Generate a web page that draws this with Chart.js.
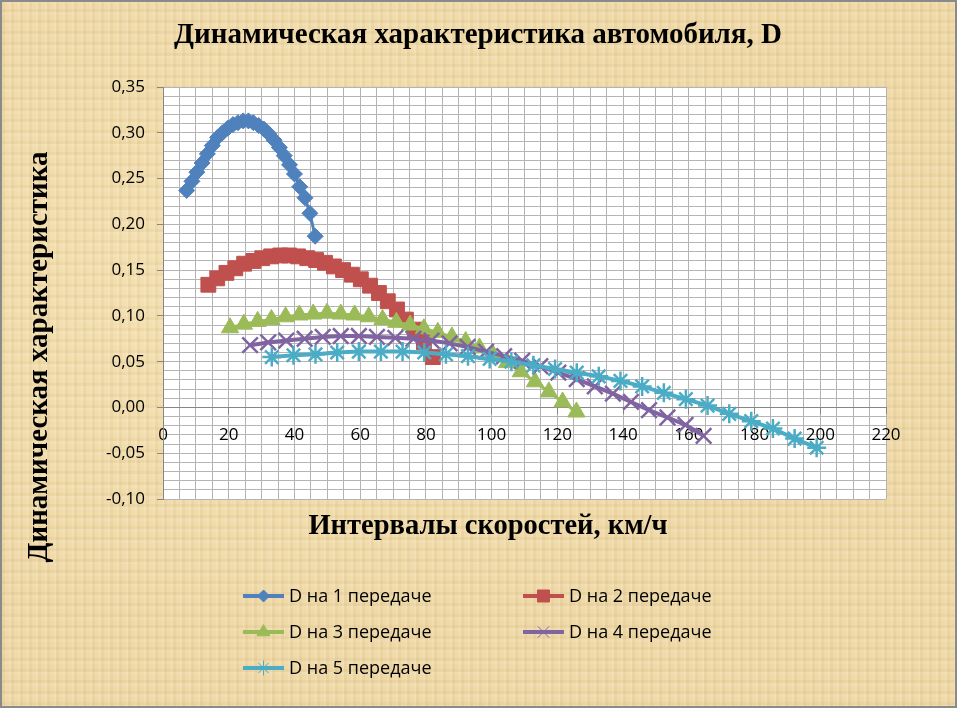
<!DOCTYPE html>
<html lang="ru">
<head>
<meta charset="utf-8">
<title>Динамическая характеристика автомобиля, D</title>
<script src="https://cdn.jsdelivr.net/npm/chart.js@4.4.1/dist/chart.umd.min.js"></script>
<style>
    html, body { margin: 0; padding: 0; }
    #wrap {
        position: relative;
        width: 957px;
        height: 708px;
        background-color: #efd9a7;
        background-image:
            repeating-linear-gradient(90deg, rgba(255,255,255,0.10) 0 2px, rgba(150,110,40,0.06) 2px 5px, rgba(255,255,255,0) 5px 9px),
            repeating-linear-gradient(0deg, rgba(255,255,255,0.08) 0 3px, rgba(150,110,40,0.06) 3px 6px, rgba(255,255,255,0) 6px 11px),
            radial-gradient(ellipse at 30% 40%, rgba(255,240,200,0.35), rgba(255,240,200,0) 60%);
        box-shadow: inset 0 0 0 2px #8a8a8a;
    }
    canvas { position: absolute; left: 0; top: 0; }
</style>
</head>
<body>
<div id="wrap"><canvas id="chartD" width="957" height="708"></canvas></div>
<script>
// скорости, км/ч
const speed1 = [7.2, 8.8, 10.3, 11.9, 13.5, 15.0, 16.6, 18.1, 19.7, 21.3, 22.8, 24.4, 26.0, 27.5, 29.1, 30.7, 32.2, 33.8, 35.4, 36.9, 38.5, 40.0, 41.6, 43.2, 44.7, 46.3];
const speed2 = [13.8, 16.5, 19.3, 22.0, 24.7, 27.5, 30.2, 32.9, 35.7, 38.4, 41.1, 43.9, 46.6, 49.3, 52.0, 54.8, 57.5, 60.2, 63.0, 65.7, 68.4, 71.2, 73.9, 76.6, 79.4, 82.1];
const speed3 = [20.4, 24.6, 28.8, 33.0, 37.3, 41.5, 45.7, 49.9, 54.1, 58.3, 62.6, 66.8, 71.0, 75.2, 79.4, 83.6, 87.9, 92.1, 96.3, 100.5, 104.7, 108.9, 113.2, 117.4, 121.6, 125.8];
const speed4 = [26.5, 32.0, 37.5, 43.1, 48.6, 54.1, 59.6, 65.1, 70.7, 76.2, 81.7, 87.2, 92.7, 98.3, 103.8, 109.3, 114.8, 120.3, 125.9, 131.4, 136.9, 142.4, 147.9, 153.5, 159.0, 164.5];
const speed5 = [33.1, 39.7, 46.4, 53.0, 59.6, 66.3, 72.9, 79.5, 86.1, 92.8, 99.4, 106.0, 112.7, 119.3, 125.9, 132.6, 139.2, 145.8, 152.4, 159.1, 165.7, 172.3, 179.0, 185.6, 192.2, 198.9];

// динамический фактор D
const d1 = [0.237, 0.247, 0.257, 0.267, 0.277, 0.286, 0.295, 0.300, 0.305, 0.309, 0.311, 0.313, 0.313, 0.311, 0.308, 0.304, 0.299, 0.292, 0.284, 0.275, 0.265, 0.255, 0.241, 0.229, 0.212, 0.187];
const d2 = [0.134, 0.141, 0.147, 0.152, 0.157, 0.160, 0.163, 0.165, 0.166, 0.166, 0.165, 0.163, 0.161, 0.158, 0.154, 0.150, 0.145, 0.140, 0.133, 0.125, 0.116, 0.107, 0.096, 0.085, 0.071, 0.055];
const d3 = [0.087, 0.091, 0.094, 0.096, 0.099, 0.101, 0.102, 0.103, 0.102, 0.101, 0.099, 0.096, 0.093, 0.090, 0.086, 0.082, 0.077, 0.072, 0.065, 0.057, 0.049, 0.039, 0.028, 0.017, 0.006, -0.005];
const d4 = [0.068, 0.071, 0.073, 0.075, 0.077, 0.078, 0.078, 0.077, 0.076, 0.075, 0.073, 0.070, 0.066, 0.061, 0.056, 0.051, 0.045, 0.038, 0.031, 0.023, 0.015, 0.006, -0.003, -0.011, -0.019, -0.031];
const d5 = [0.055, 0.057, 0.058, 0.060, 0.061, 0.061, 0.061, 0.060, 0.058, 0.056, 0.053, 0.050, 0.046, 0.042, 0.038, 0.034, 0.029, 0.023, 0.016, 0.009, 0.002, -0.007, -0.015, -0.023, -0.034, -0.044];

const seriesNames = ['D на 1 передаче', 'D на 2 передаче', 'D на 3 передаче', 'D на 4 передаче', 'D на 5 передаче'];
const chartTitle = 'Динамическая характеристика автомобиля, D';
const xTitle = 'Интервалы скоростей, км/ч';
const yTitle = 'Динамическая характеристика';

const xMin = 0, xMax = 220, xMinor = 5, xMajor = 20;
const yMin = -0.10, yMax = 0.35, yMinor = 0.01, yMajor = 0.05;

const SERIF = '"Liberation Serif", "Times New Roman", serif';
const SANS = '"Open Sans", "Liberation Sans", Arial, sans-serif';

const styles = [
    { color: '#4f81bd', point: 'rectRot',  radius: 8,    pw: 1,   lw: 3, lr: 6,   lpw: 1 },
    { color: '#c0504d', point: 'rect',     radius: 10.5, pw: 1,   lw: 3, lr: 8.5, lpw: 1 },
    { color: '#9bbb59', point: 'triangle', radius: 10,   pw: 1,   lw: 3, lr: 7.5, lpw: 1 },
    { color: '#8064a2', point: 'crossRot', radius: 11,   pw: 2.5, lw: 4, lr: 8,   lpw: 1 },
    { color: '#4bacc6', point: 'star',     radius: 9.5,  pw: 2.5, lw: 4, lr: 7.5, lpw: 1 }
];

function toPoints(xs, ys) {
    return xs.map((x, i) => ({ x: x, y: ys[i] }));
}

function buildDatasets() {
    const xs = [speed1, speed2, speed3, speed4, speed5];
    const ys = [d1, d2, d3, d4, d5];
    return seriesNames.map((name, i) => ({
        label: name,
        data: toPoints(xs[i], ys[i]),
        borderColor: styles[i].color,
        backgroundColor: styles[i].color,
        borderWidth: styles[i].lw,
        pointStyle: styles[i].point,
        pointRadius: styles[i].radius,
        pointHoverRadius: styles[i].radius,
        pointBorderWidth: styles[i].pw,
        pointBorderColor: styles[i].color,
        pointBackgroundColor: styles[i].color,
        tension: 0,
        order: seriesNames.length - i   // более поздние серии поверх
    }));
}

const isMajorY = v => Math.round(v * 100) % 5 === 0;
const isMajorX = v => Math.round(v) % xMajor === 0;

// белая область построения
const plotBackground = {
    id: 'plotBackground',
    beforeDraw(chart) {
        const { ctx, chartArea: a } = chart;
        ctx.save();
        ctx.fillStyle = '#ffffff';
        ctx.fillRect(a.left, a.top, a.right - a.left, a.bottom - a.top);
        ctx.restore();
    }
};

// заголовки и легенда
const textAndLegend = {
    id: 'textAndLegend',
    afterDraw(chart) {
        const ctx = chart.ctx;
        ctx.save();
        ctx.fillStyle = '#000000';
        ctx.textAlign = 'center';
        ctx.textBaseline = 'middle';

        ctx.font = 'bold 29px ' + SERIF;
        ctx.fillText(chartTitle, 478, 36);

        ctx.font = 'bold 28.5px ' + SERIF;
        ctx.fillText(xTitle, 488, 527);

        ctx.save();
        ctx.font = 'bold 29px ' + SERIF;
        ctx.translate(40, 357);
        ctx.rotate(-Math.PI / 2);
        ctx.fillText(yTitle, 0, 0);
        ctx.restore();

        const slots = [[243, 596], [523, 596], [243, 632], [523, 632], [243, 668]];
        ctx.font = '18px ' + SANS;
        ctx.textAlign = 'left';
        chart.data.datasets.forEach((ds, i) => {
            const [x0, y0] = slots[i];
            const st = styles[i];
            ctx.strokeStyle = st.color;
            ctx.fillStyle = st.color;
            ctx.lineWidth = 4;
            ctx.beginPath();
            ctx.moveTo(x0, y0);
            ctx.lineTo(x0 + 41, y0);
            ctx.stroke();
            if (Chart.helpers && Chart.helpers.drawPoint) {
                ctx.lineWidth = st.lpw;
                Chart.helpers.drawPoint(ctx, { pointStyle: st.point, radius: st.lr, borderWidth: st.lpw, rotation: 0 }, x0 + 20.5, y0);
            }
            ctx.fillStyle = '#000000';
            ctx.fillText(ds.label, x0 + 46, y0 + 1);
        });
        ctx.restore();
    }
};

function renderChart() {
    const ctx = document.getElementById('chartD');
    new Chart(ctx, {
        type: 'line',
        data: { datasets: buildDatasets() },
        options: {
            responsive: false,
            animation: false,
            layout: { padding: { left: 93, right: 71, top: 87, bottom: 209 } },
            plugins: {
                legend: { display: false },
                title: { display: false },
                tooltip: { enabled: false }
            },
            scales: {
                x: {
                    type: 'linear',
                    position: { y: 0 },
                    min: xMin,
                    max: xMax,
                    ticks: {
                        stepSize: xMinor,
                        autoSkip: false,
                        maxRotation: 0,
                        padding: 12,
                        color: '#000000',
                        font: { family: SANS, size: 17 },
                        callback: v => isMajorX(v) ? String(Math.round(v)) : ''
                    },
                    grid: {
                        color: c => Math.round(c.tick.value) === 0 ? '#868686' : '#b4b4b4',
                        tickLength: 6,
                        tickColor: c => isMajorX(c.tick.value) ? '#868686' : 'rgba(0,0,0,0)'
                    },
                    border: { color: '#868686', width: 1 }
                },
                y: {
                    type: 'linear',
                    min: yMin,
                    max: yMax,
                    afterFit: s => { s.width = 70; },
                    ticks: {
                        stepSize: yMinor,
                        autoSkip: false,
                        padding: 12,
                        color: '#000000',
                        font: { family: SANS, size: 17 },
                        callback: v => isMajorY(v) ? (Math.round(v * 100) / 100).toFixed(2).replace('.', ',') : ''
                    },
                    grid: {
                        color: c => Math.round(c.tick.value * 100) === 0 ? '#868686' : '#b4b4b4',
                        tickLength: 6,
                        tickColor: c => isMajorY(c.tick.value) ? '#868686' : 'rgba(0,0,0,0)'
                    },
                    border: { color: '#868686', width: 1 }
                }
            }
        },
        plugins: [plotBackground, textAndLegend]
    });
}

document.addEventListener('DOMContentLoaded', renderChart);
</script>
</body>
</html>
